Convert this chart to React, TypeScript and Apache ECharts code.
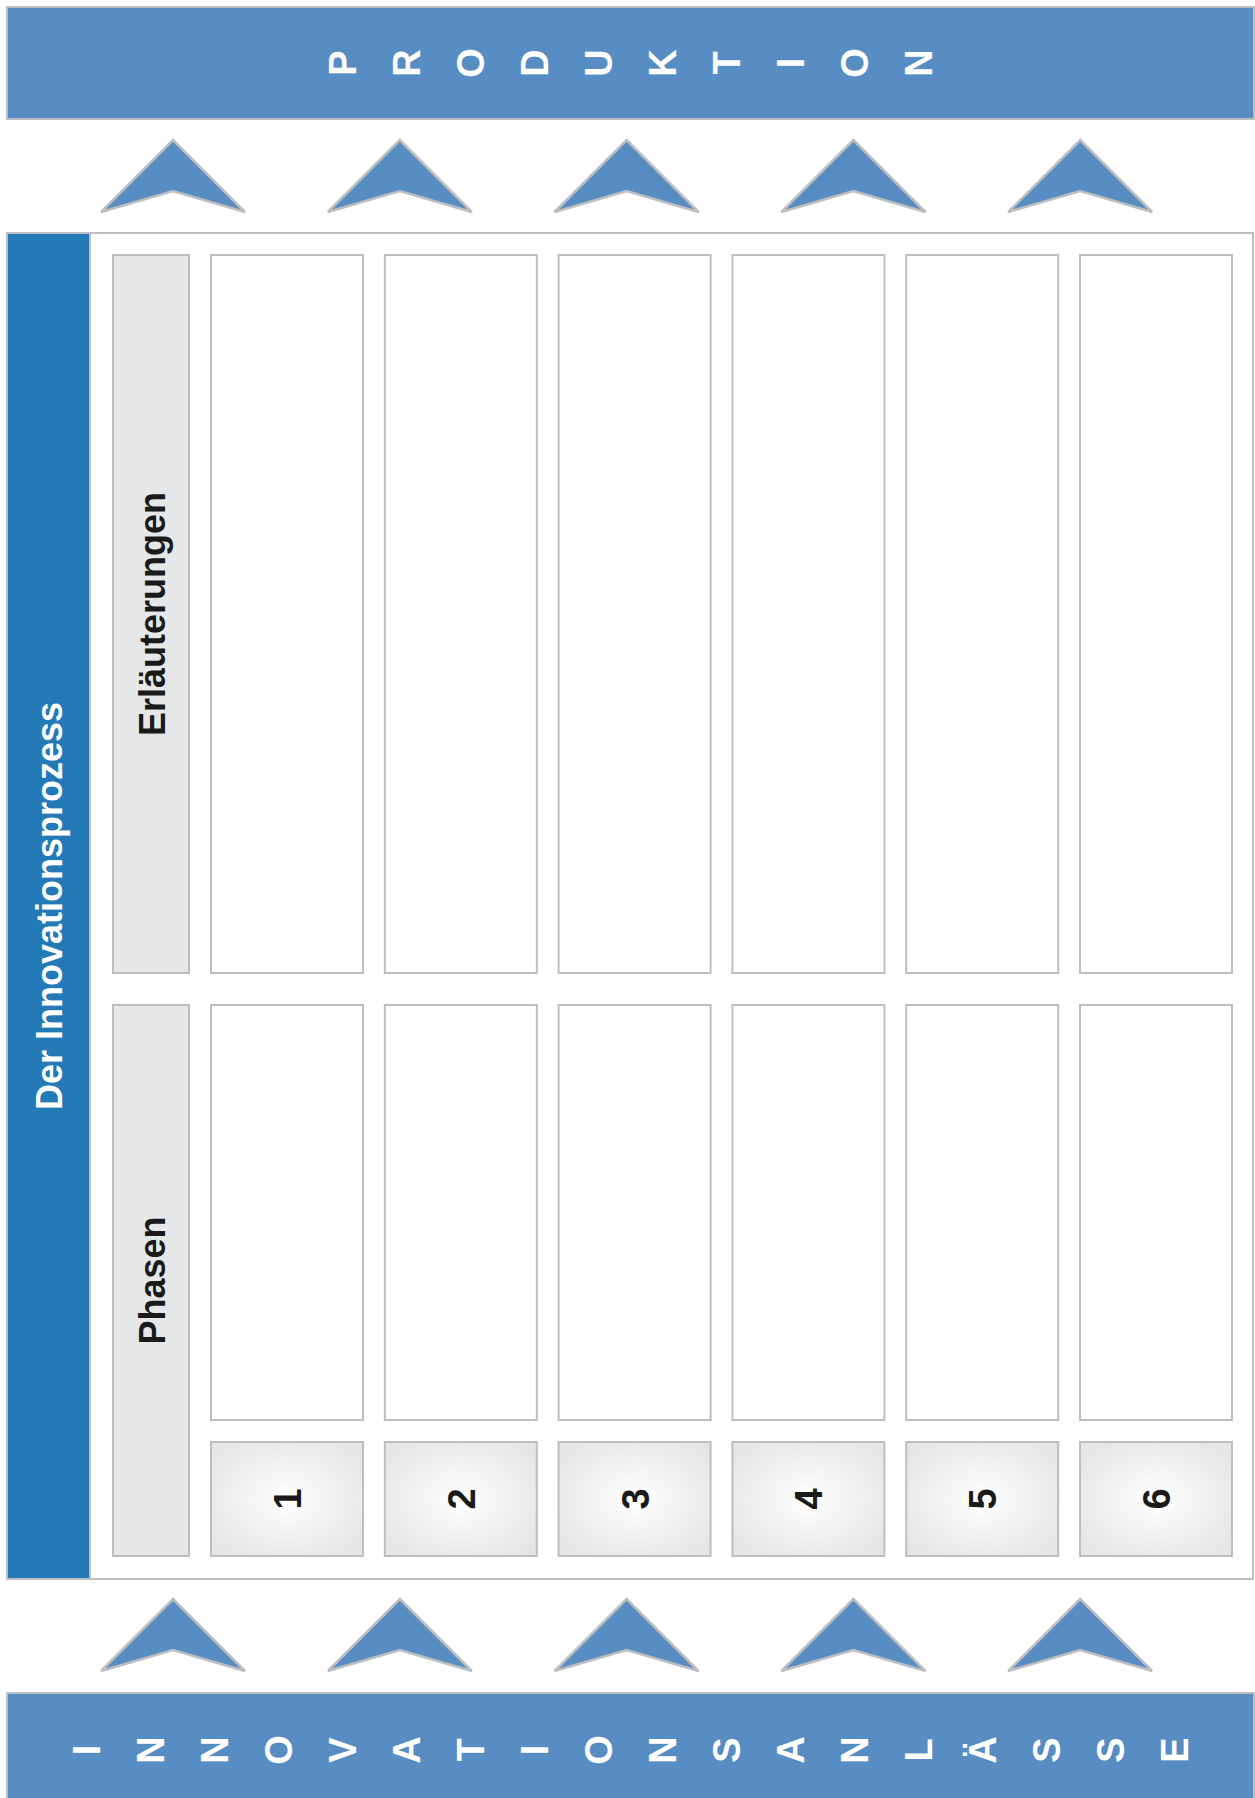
import React, { useEffect, useRef } from "react";
import * as echarts from "echarts";

// ---- content ----
const topLetters = ["P", "R", "O", "D", "U", "K", "T", "I", "O", "N"];
const bottomLetters = ["I", "N", "N", "O", "V", "A", "T", "I", "O", "N", "S", "A", "N", "L", "Ä", "S", "S", "E"];
const sideTitle = "Der Innovationsprozess";
const rowHeaders = ["Erläuterungen", "Phasen"];
const phaseNumbers = ["1", "2", "3", "4", "5", "6"];
const arrowColumns = [0, 1, 2, 3, 4];

// ---- layout / style ----
const W = 1255;
const H = 1798;
const FONT = '"Liberation Sans", Arial, Helvetica, sans-serif';
const BORDER = "#bcbec0";
const BANNER = "#588dc3";
const BAND = "#2479b7";
const HEADER_FILL = "#e6e7e8";

function txt(text: string, x: number, y: number, size: number, fill: string, z = 10) {
  return {
    type: "text",
    x,
    y,
    rotation: Math.PI / 2,
    z,
    style: {
      text,
      fill,
      font: `bold ${size}px ${FONT}`,
      textAlign: "center",
      textVerticalAlign: "middle",
      align: "center",
      verticalAlign: "middle",
    },
  };
}

function box(x: number, y: number, w: number, h: number, fill: any, z = 2) {
  return {
    type: "rect",
    z,
    shape: { x, y, width: w, height: h },
    style: { fill, stroke: BORDER, lineWidth: 2 },
  };
}

function arrow(cx: number, apexY: number) {
  const half = 72;
  const baseY = apexY + 72;
  const notchY = apexY + 51;
  return {
    type: "polygon",
    z: 3,
    shape: {
      points: [
        [cx, apexY],
        [cx + half, baseY],
        [cx, notchY],
        [cx - half, baseY],
      ],
    },
    style: { fill: BANNER, stroke: BORDER, lineWidth: 2.5, lineJoin: "miter" },
  };
}

function buildElements() {
  const els: any[] = [];

  // top banner
  els.push(box(7, 7, 1247, 112, BANNER, 1));
  const letterPitch = 64.05;
  const topStart = 631 - ((topLetters.length - 1) * letterPitch) / 2;
  topLetters.forEach((l, i) => els.push(txt(l, topStart + i * letterPitch, 63, 38, "#ffffff")));

  // bottom banner
  els.push(box(7, 1693, 1247, 120, BANNER, 1));
  const botStart = 631 - ((bottomLetters.length - 1) * letterPitch) / 2;
  bottomLetters.forEach((l, i) => els.push(txt(l, botStart + i * letterPitch, 1750, 38, "#ffffff")));

  // arrows
  const arrowPitch = 226.8;
  arrowColumns.forEach((c) => {
    const cx = 173 + c * arrowPitch;
    els.push(arrow(cx, 140));
    els.push(arrow(cx, 1599));
  });

  // main frame
  els.push(box(7, 233, 1246, 1346, "#ffffff", 1));
  els.push(box(7, 233, 83, 1346, BAND, 2));
  els.push(txt(sideTitle, 49, 906, 36, "#ffffff"));

  // row headers
  const rows = [
    { y: 255, h: 718 },
    { y: 1005, h: 551 },
  ];
  rowHeaders.forEach((label, i) => {
    const r = rows[i];
    els.push(box(113, r.y, 76, r.h, HEADER_FILL, 2));
    els.push(txt(label, 152, r.y + r.h / 2, 36, "#1a1a1a"));
  });

  // phase columns
  const colPitch = 173.8;
  const colW = 152;
  const numFill = {
    type: "radial",
    x: 0.5,
    y: 0.5,
    r: 0.62,
    colorStops: [
      { offset: 0, color: "#ffffff" },
      { offset: 1, color: "#e4e5e6" },
    ],
  };
  phaseNumbers.forEach((n, i) => {
    const x = 211 + i * colPitch;
    els.push(box(x, 255, colW, 718, "#ffffff", 2));
    els.push(box(x, 1005, colW, 415, "#ffffff", 2));
    els.push(box(x, 1442, colW, 114, numFill, 2));
    els.push(txt(n, x + colW / 2 + 1, 1499, 38, "#1a1a1a"));
  });

  return els;
}

export default function App() {
  const ref = useRef<HTMLDivElement>(null);
  useEffect(() => {
    document.body.style.margin = "0";
    if (!ref.current) return;
    const chart = echarts.init(ref.current, undefined, { renderer: "svg", width: W, height: H });
    chart.setOption({
      animation: false,
      backgroundColor: "#ffffff",
      graphic: { elements: buildElements() },
    });
    return () => chart.dispose();
  }, []);
  return (
    <div
      ref={ref}
      style={{ position: "absolute", left: 0, top: 0, width: W, height: H, overflow: "hidden" }}
    />
  );
}
